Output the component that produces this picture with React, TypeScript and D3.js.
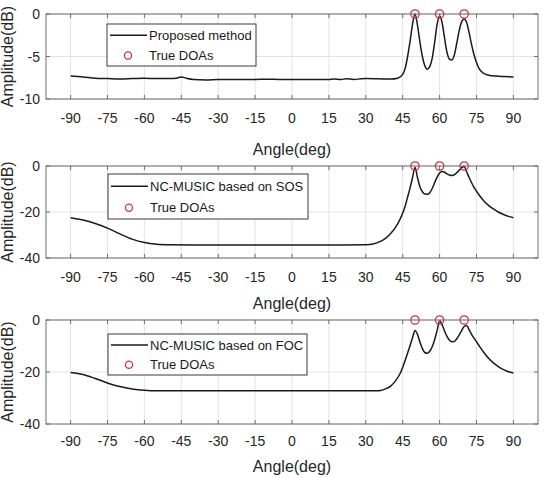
import React from "react";
import * as d3 from "d3";

// ---------- data ----------
const xTicks = [-90, -75, -60, -45, -30, -15, 0, 15, 30, 45, 60, 75, 90];
const trueDOAs = [50, 60, 70];

const proposedAngles = [-90, -85, -80, -75, -70, -65, -60, -55, -50, -47, -45, -43, -40, -35, -30, -25, -20, -15, -10, -5, 0, 5, 10, 15, 17, 20, 22, 25, 28, 30, 35, 40, 43, 45, 46, 47, 48, 49, 50, 51, 52, 53, 54, 55, 56, 57, 58, 59, 60, 61, 62, 63, 64, 65, 66, 67, 68, 69, 70, 71, 72, 73, 74, 75, 76, 78, 80, 83, 86, 90];
const proposedValues = [-7.3, -7.4, -7.55, -7.6, -7.65, -7.6, -7.55, -7.6, -7.6, -7.55, -7.4, -7.55, -7.7, -7.75, -7.7, -7.7, -7.7, -7.7, -7.68, -7.7, -7.7, -7.72, -7.7, -7.72, -7.64, -7.7, -7.62, -7.7, -7.63, -7.6, -7.62, -7.65, -7.55, -7.1, -6.4, -5.0, -3.2, -1.2, 0, -1.3, -3.3, -5.0, -6.1, -6.5, -6.2, -5.2, -3.3, -1.2, -0.2, -1.0, -2.8, -4.5, -5.3, -5.4, -4.8, -3.4, -1.9, -0.9, -0.6, -1.0, -2.2, -3.6, -4.8, -5.7, -6.4, -7.0, -7.2, -7.3, -7.35, -7.4];

const sosAngles = [-90, -85, -80, -75, -70, -65, -60, -55, -50, -40, -30, -20, -10, 0, 10, 20, 30, 33, 36, 38, 40, 42, 44, 46, 47, 48, 49, 50, 51, 52, 53, 54, 55, 56, 57, 58, 59, 60, 61, 62, 63, 64, 65, 66, 67, 68, 69, 70, 71, 72, 73, 74, 76, 78, 80, 82, 84, 86, 88, 90];
const sosValues = [-22.5, -23.5, -25, -27, -29.5, -31.8, -33.3, -34, -34.2, -34.3, -34.3, -34.3, -34.3, -34.3, -34.3, -34.3, -34.2, -33.9, -32.8, -31.5, -29.5, -26.8, -23, -17.5, -13.5, -9.5, -5, -0.5, -5, -9, -11.2, -12.2, -12.3, -11.6, -9.8, -7.2, -4.8, -3, -2.4, -2.7, -3.4, -3.9, -4.1, -3.8, -2.9, -1.8, -0.7, -0.2, -2.5, -5, -7.3, -9.3, -12.5, -15.2, -17.2, -18.8, -20.1, -21.1, -21.9, -22.5];

const focAngles = [-90, -85, -80, -75, -70, -65, -60, -55, -50, -40, -30, -20, -10, 0, 10, 20, 30, 35, 36, 38, 40, 42, 44, 46, 48, 49, 50, 51, 52, 53, 54, 55, 56, 57, 58, 59, 60, 61, 62, 63, 64, 65, 66, 67, 68, 69, 70, 71, 72, 73, 74, 76, 78, 80, 82, 84, 86, 88, 90];
const focValues = [-20.2, -21, -22.5, -24.2, -25.6, -26.5, -27, -27.2, -27.2, -27.2, -27.2, -27.2, -27.2, -27.2, -27.2, -27.2, -27.2, -27.2, -27.1, -26.5, -25.5, -23.5, -20.5, -15.5, -9.8, -6.8, -4, -5.5, -8.5, -11, -12.5, -12.8, -12, -10.3, -7.5, -4, -0.3, -1.8, -4.2, -6.3, -7.8, -8.4, -8.2, -7.2, -5.7, -4, -2.5, -2.1, -3.8, -5.5, -7, -9.8, -12.5, -14.8, -16.6, -18, -19.1, -19.9, -20.4];

const yTicksTop = [0, -5, -10];
const yTicksDb = [0, -20, -40];
const legendLabels = ["Proposed method", "NC-MUSIC based on SOS", "NC-MUSIC based on FOC"];
const doaLabel = "True DOAs";
const xLabel = "Angle(deg)";
const yLabel = "Amplitude(dB)";

// ---------- layout ----------
const W = 544;
const H = 478;
const LEFT = 46;
const RIGHT = 538;
const FONT = "'Liberation Sans', Arial, Helvetica, sans-serif";

type Panel = {
  top: number;
  bottom: number;
  yDomain: [number, number];
  yTicks: number[];
  angles: number[];
  values: number[];
  label: string;
  legend: { x: number; y: number; w: number; h: number };
  tickY: number;
  xLabelY: number;
};

const panels: Panel[] = [
  {
    top: 14, bottom: 99, yDomain: [-10, 0], yTicks: yTicksTop,
    angles: proposedAngles, values: proposedValues, label: legendLabels[0],
    legend: { x: 107, y: 24, w: 149, h: 42 }, tickY: 123, xLabelY: 155,
  },
  {
    top: 166, bottom: 258, yDomain: [-40, 0], yTicks: yTicksDb,
    angles: sosAngles, values: sosValues, label: legendLabels[1],
    legend: { x: 108, y: 174, w: 200, h: 45 }, tickY: 282, xLabelY: 309,
  },
  {
    top: 320, bottom: 424, yDomain: [-40, 0], yTicks: yTicksDb,
    angles: focAngles, values: focValues, label: legendLabels[2],
    legend: { x: 108, y: 334, w: 199, h: 41 }, tickY: 446, xLabelY: 472,
  },
];

const x = d3.scaleLinear().domain([-100, 100]).range([LEFT, RIGHT]);

function PanelView({ p }: { p: Panel }) {
  const y = d3.scaleLinear().domain(p.yDomain).range([p.bottom, p.top]);
  const pts: [number, number][] = p.angles.map((a, i) => [a, p.values[i]]);
  const line = d3
    .line<[number, number]>()
    .x((d) => x(d[0]))
    .y((d) => y(d[1]))
    .curve(d3.curveMonotoneX);
  const L = p.legend;
  const row1 = L.y + L.h * 0.27;
  const row2 = L.y + L.h * 0.75;
  return (
    <g>
      {/* grid */}
      {xTicks.map((t) => (
        <line key={"gx" + t} x1={x(t)} x2={x(t)} y1={p.top} y2={p.bottom} stroke="#e3e3e3" strokeWidth={1} />
      ))}
      {p.yTicks.map((t) => (
        <line key={"gy" + t} x1={LEFT} x2={RIGHT} y1={y(t)} y2={y(t)} stroke="#e3e3e3" strokeWidth={1} />
      ))}
      {/* curve */}
      <path d={line(pts) || ""} fill="none" stroke="#1a1a1a" strokeWidth={1.5} />
      {/* true DOAs */}
      {trueDOAs.map((a) => (
        <circle key={"c" + a} cx={x(a)} cy={y(0)} r={4.2} fill="none" stroke="#d2323f" strokeWidth={1.3} />
      ))}
      {/* box */}
      <rect x={LEFT} y={p.top} width={RIGHT - LEFT} height={p.bottom - p.top} fill="none" stroke="#6e6e6e" strokeWidth={1} />
      {/* ticks */}
      {xTicks.map((t) => (
        <g key={"tx" + t}>
          <line x1={x(t)} x2={x(t)} y1={p.bottom} y2={p.bottom - 4} stroke="#6e6e6e" />
          <line x1={x(t)} x2={x(t)} y1={p.top} y2={p.top + 4} stroke="#6e6e6e" />
          <text x={x(t)} y={p.tickY} textAnchor="middle" fontSize={14} fill="#262626" fontFamily={FONT}>
            {t}
          </text>
        </g>
      ))}
      {p.yTicks.map((t) => (
        <g key={"ty" + t}>
          <line x1={LEFT} x2={LEFT + 4} y1={y(t)} y2={y(t)} stroke="#6e6e6e" />
          <line x1={RIGHT} x2={RIGHT - 4} y1={y(t)} y2={y(t)} stroke="#6e6e6e" />
          <text x={40} y={y(t) + 5} textAnchor="end" fontSize={14} fill="#262626" fontFamily={FONT}>
            {t}
          </text>
        </g>
      ))}
      {/* labels */}
      <text x={(x(-90) + x(90)) / 2} y={p.xLabelY} textAnchor="middle" fontSize={16} fill="#262626" fontFamily={FONT}>
        {xLabel}
      </text>
      <text
        transform={`translate(${13},${(p.top + p.bottom) / 2}) rotate(-90)`}
        textAnchor="middle"
        fontSize={16}
        fill="#262626"
        fontFamily={FONT}
      >
        {yLabel}
      </text>
      {/* legend */}
      <rect x={L.x} y={L.y} width={L.w} height={L.h} fill="#ffffff" stroke="#3a3a3a" strokeWidth={1} />
      <line x1={L.x + 3} x2={L.x + 40} y1={row1} y2={row1} stroke="#1a1a1a" strokeWidth={1.5} />
      <text x={L.x + 42} y={row1 + 4.5} fontSize={13} fill="#1a1a1a" fontFamily={FONT}>
        {p.label}
      </text>
      <circle cx={L.x + 21} cy={row2} r={3.6} fill="none" stroke="#d2323f" strokeWidth={1.3} />
      <text x={L.x + 42} y={row2 + 4.5} fontSize={13} fill="#1a1a1a" fontFamily={FONT}>
        {doaLabel}
      </text>
    </g>
  );
}

export default function App() {
  return (
    <svg
      width={W}
      height={H}
      viewBox={`0 0 ${W} ${H}`}
      style={{ position: "absolute", left: 0, top: 0, background: "#ffffff" }}
    >
      <rect x={0} y={0} width={W} height={H} fill="#ffffff" />
      {panels.map((p, i) => (
        <PanelView key={i} p={p} />
      ))}
    </svg>
  );
}
